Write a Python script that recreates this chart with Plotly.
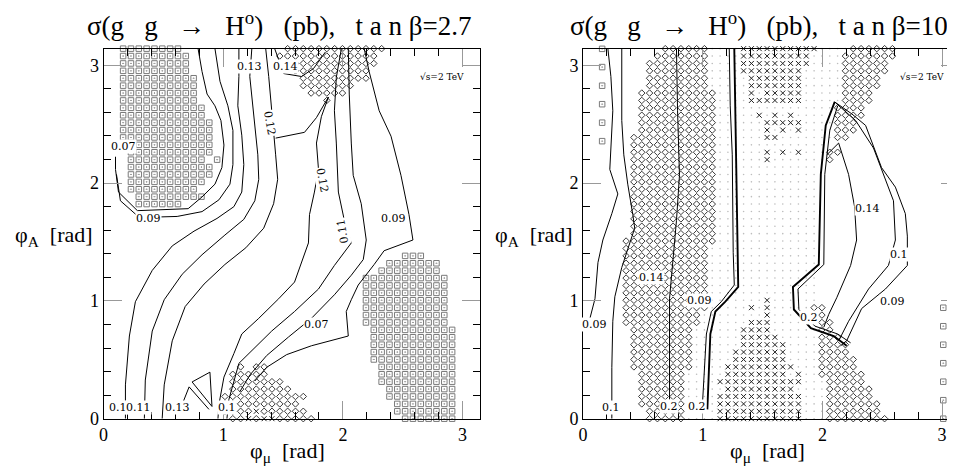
import numpy as np
import plotly.graph_objects as go

PI = np.pi
DX = PI / 48   # scan grid step in phi_mu
DY = PI / 50   # scan grid step in phi_A

def gx(i):
    return (i + 0.5) * DX

def gy(j):
    return min(j * DY, PI)

# ---------------- scan-point regions (row index j, column spec) ----------------
# left panel (tan beta = 2.7)
L_SQUARES = [
    (50, "2-9"), (49, "2-10"), (48, "2-10"), (47, "2-10"), (46, "2-11"), (45, "2-11"),
    (44, "2-11"), (43, "2-11"), (42, "2-12"), (41, "2-12"), (40, "2-13"), (39, "2-13"),
    (38, "2-13"), (37, "2-13"), (36, "3-13"), (35, "3-12,14"), (34, "3-13"), (33, "3-13"),
    (32, "3-12"), (31, "3-11"), (30, "4-12"), (29, "4-9"),
    (22, "38-40"), (21, "36-42"), (20, "35-42"), (19, "33-43"), (18, "33-43"), (17, "33-43"),
    (16, "33-43"), (15, "33-43"), (14, "33-43"), (13, "33-43"), (12, "34-44"), (11, "34-44"),
    (10, "34-44"), (9, "34-44"), (8, "34-44"), (7, "35-44"), (6, "35-44"), (5, "35-44"),
    (4, "36-44"), (3, "36-44"), (2, "37-44"), (1, "37-44"), (0, "38-44"),
]
L_DIAMONDS = [
    (50, "23-35"), (49, "22-34"), (48, "23-34"), (47, "24-33"), (46, "25-33"), (45, "25-31"),
    (44, "26-30"), (43, "28"),
    (7, "17,19,20"), (6, "16-20"), (5, "16-22"), (4, "16-23"), (3, "15-25"), (2, "15-24"),
    (1, "15-18,20-25"), (0, "16-17,19,22-26"),
]
L_CROSSES = [(1, "19"), (0, "18,20,21")]

# right panel (tan beta = 10)
R_DIAMONDS = [
    (50, "10-15"), (49, "9-15"), (48, "8-15"), (47, "8-15"), (46, "8-15"), (45, "8-15"),
    (44, "7-16"), (43, "7-16"), (42, "7-16"), (41, "7-16"), (40, "7-16"), (39, "7-16"),
    (38, "6-16"), (37, "6-16"), (36, "6-16"), (35, "6-16"), (34, "6-16"), (33, "6-16"),
    (32, "6-16"), (31, "6-16"), (30, "6-16"), (29, "6-16"), (28, "6-16"), (27, "6-16"),
    (26, "6-16"), (25, "6-16"), (24, "5-16"), (23, "5-15"), (22, "5-15"), (21, "5-15"),
    (20, "5-15"), (19, "5-15"), (18, "5-15"), (17, "5-15"), (16, "5-15"), (15, "5-15"),
    (14, "5-14"), (13, "5-14"), (12, "6-13"), (11, "6-13"), (10, "6-13"), (9, "6-13"),
    (8, "6-13"), (7, "6-13"), (6, "7-12"), (5, "7-12"), (4, "7-12"), (3, "7-12"),
    (2, "7-12"), (1, "8-12"), (0, "8-12"),
    (50, "34-39"), (49, "33-39"), (48, "33-38"), (47, "33-38"), (46, "33-37"), (45, "33-37"),
    (44, "33-36"), (43, "33-36"), (42, "32-35"), (41, "32-35"), (40, "32-34"), (39, "32-34"),
    (38, "32-33"), (36, "31-32"), (35, "31"),
    (15, "29-30"), (14, "30"), (13, "30-31"), (12, "30-31"), (11, "30-32"), (10, "30-33"),
    (9, "30-33"), (8, "30-34"), (7, "30-34"), (6, "30-35"), (5, "31-35"), (4, "31-36"),
    (3, "31-36"), (2, "31-37"), (1, "31-37"), (0, "31-38"),
]
R_CROSSES = [
    (50, "20-29"), (49, "20-28"), (48, "20-28"), (47, "20-27"), (46, "21-27"), (45, "21-27"),
    (44, "21,23-27"), (43, "21-27"), (41, "22,24,26"), (40, "23-27"), (39, "23,25,27"),
    (38, "23-24"), (36, "23,25,27"), (35, "23"),
    (16, "23"), (15, "21,23"), (14, "23"), (13, "21-23"), (12, "20-23"), (11, "20-24"),
    (10, "20-25"), (9, "19-25"), (8, "19-25"), (7, "18-26"), (6, "18-25,27"), (5, "17-27"),
    (4, "18-26"), (3, "17-27"), (2, "17-27"), (1, "17-27"), (0, "17-27"),
]
R_DOT_ROWS = [
    (50, "16-33"), (49, "16-32"), (48, "16-32"), (47, "16-32"), (46, "16-32"), (45, "16-32"),
    (44, "17-32"), (43, "17-32"), (42, "17-31"), (41, "17-31"), (40, "17-31"), (39, "17-31"),
    (38, "17-31"), (37, "17-30"), (36, "17-30"), (35, "17-30"), (34, "17-29"), (33, "17-29"),
    (32, "17-29"), (31, "17-29"), (30, "17-29"), (29, "17-29"), (28, "17-29"), (27, "17-29"),
    (26, "17-29"), (25, "17-29"), (24, "17-29"), (23, "16-29"), (22, "16-29"), (21, "16-29"),
    (20, "16-29"), (19, "16-29"), (18, "16-29"), (17, "16-29"), (16, "16-29"), (15, "16-28"),
    (14, "15-29"), (13, "15-29"), (12, "14-29"), (11, "14-29"), (10, "14-29"), (9, "14-29"),
    (8, "14-29"), (7, "14-29"), (6, "13-29"), (5, "13-30"), (4, "13-30"), (3, "13-30"),
    (2, "13-30"), (1, "13-30"), (0, "13-30"),
]
R_SQUARES_X = [0.16, 0.16, 0.16, 0.16, 0.16, 0.16, 3.01, 3.01, 3.01, 3.01, 3.01, 3.01, 3.01]
R_SQUARES_Y = [3.14, 2.985, 2.827, 2.67, 2.513, 2.356, 0.942, 0.785, 0.628, 0.471, 0.314, 0.157, 0.0]

# ---------------- contour lines (phi_mu, phi_A) ----------------
L_LINES = {
    "c007": ([0.10, 0.10, 0.125, 0.283, 0.707, 0.823, 0.931, 0.989, 1.006, 0.981, 0.931, 0.865, 0.823, 0.790],
             [2.224, 2.116, 1.924, 1.766, 1.783, 1.883, 1.991, 2.132, 2.323, 2.531, 2.656, 2.756, 2.947, 3.1416]),
    "c009": ([0.108, 0.141, 0.299, 0.615, 0.823, 0.964, 1.056, 1.081, 1.081, 1.039, 0.973, 0.931],
             [2.074, 1.850, 1.708, 1.717, 1.758, 1.858, 1.991, 2.157, 2.448, 2.656, 2.864, 3.1416]),
    "c010": ([0.183, 0.183, 0.216, 0.266, 0.407, 0.574, 0.756, 0.948, 1.089, 1.155, 1.172, 1.155, 1.122, 1.131, 1.131],
             [0.0, 0.287, 0.702, 0.993, 1.259, 1.467, 1.592, 1.700, 1.800, 1.924, 2.157, 2.407, 2.656, 2.905, 3.1416]),
    "c011": ([0.341, 0.349, 0.407, 0.507, 0.657, 0.823, 1.014, 1.172, 1.264, 1.297, 1.289, 1.264, 1.239, 1.222, 1.239],
             [0.0, 0.328, 0.744, 1.010, 1.226, 1.392, 1.559, 1.692, 1.850, 2.032, 2.240, 2.490, 2.697, 2.905, 3.1416]),
    "c013": ([0.490, 0.507, 0.574, 0.682, 0.840, 1.014, 1.189, 1.338, 1.421, 1.455, 1.438, 1.421, 1.405, 1.380, 1.355],
             [0.0, 0.287, 0.661, 0.952, 1.143, 1.309, 1.451, 1.617, 1.825, 2.032, 2.240, 2.448, 2.656, 2.905, 3.1416]),
    "c013b": ([1.430, 1.505, 1.654, 1.754, 1.854],
              [3.1416, 2.930, 2.905, 2.972, 3.113]),
    "c012": ([1.438, 1.679, 1.779, 1.879, 1.820, 1.779, 1.796, 1.762, 1.721, 1.712, 1.596, 1.463, 1.297, 1.155, 1.089, 1.006, 0.964, 0.956],
             [2.382, 2.431, 2.556, 2.731, 2.564, 2.340, 2.116, 1.924, 1.733, 1.492, 1.160, 1.018, 0.852, 0.719, 0.553, 0.353, 0.121, 0.0]),
    "c011b": ([1.987, 1.945, 1.929, 1.945, 1.962, 2.012, 2.070, 1.929, 1.796, 1.596, 1.405, 1.264, 1.131, 1.047, 1.031],
              [3.1416, 2.897, 2.614, 2.340, 1.924, 1.683, 1.492, 1.301, 1.101, 0.910, 0.744, 0.603, 0.470, 0.162, 0.0]),
    "c010b": ([2.045, 2.053, 2.070, 2.086, 2.153, 2.195, 2.170, 2.070, 1.929, 1.737, 1.546, 1.363, 1.222, 1.139],
              [3.1416, 2.756, 2.340, 2.066, 1.825, 1.517, 1.351, 1.218, 1.052, 0.852, 0.694, 0.536, 0.370, 0.229]),
    "c009b": ([2.178, 2.219, 2.303, 2.402, 2.485, 2.552, 2.585, 2.344, 2.261, 2.128, 2.070, 2.028, 2.045, 1.737, 1.530, 1.363, 1.264],
              [3.1416, 2.947, 2.614, 2.398, 2.066, 1.733, 1.517, 1.426, 1.309, 1.135, 1.010, 0.910, 0.702, 0.619, 0.544, 0.436, 0.320]),
    "tri": ([0.740, 0.889, 0.906, 0.740], [0.312, 0.395, 0.104, 0.312]),
    "tri2": ([0.657, 0.715, 0.881], [0.121, 0.270, 0.079]),
}
R_LINES = {
    "c009": ([0.208, 0.233, 0.249, 0.224, 0.291, 0.241, 0.166, 0.125, 0.100, 0.058, 0.0],
             [3.1416, 2.905, 2.614, 2.116, 1.908, 1.741, 1.517, 1.326, 1.018, 0.852, 0.786]),
    "c010": ([0.324, 0.324, 0.324, 0.341, 0.374, 0.416, 0.432, 0.391, 0.324, 0.266, 0.249, 0.241, 0.241],
             [3.1416, 2.822, 2.531, 2.240, 1.991, 1.733, 1.617, 1.492, 1.284, 1.035, 0.827, 0.436, 0.0]),
    "c02a": ([0.781, 0.790, 0.806, 0.781, 0.723, 0.723, 0.723],
             [3.1416, 2.614, 2.066, 1.683, 1.018, 0.495, 0.162]),
    "c02b": ([1.222, 1.230, 1.247, 1.255, 1.264, 1.155, 1.072, 1.031, 0.998],
             [3.1416, 2.656, 2.240, 1.409, 1.135, 0.993, 0.910, 0.719, 0.121]),
    "c02c": ([1.264, 1.272, 1.280, 1.288, 1.297, 1.189, 1.106, 1.064, 1.039],
             [3.1416, 2.656, 2.240, 1.409, 1.118, 0.993, 0.910, 0.719, 0.079]),
    "loop02a": ([2.103, 2.028, 1.987, 1.970, 1.754, 1.762, 1.904, 2.095, 2.203],
                [2.689, 2.490, 2.074, 1.309, 1.118, 0.927, 0.769, 0.702, 0.619]),
    "loop02b": ([2.128, 2.062, 2.020, 2.012, 1.796, 1.804, 1.937, 2.128, 2.236],
                [2.656, 2.448, 2.074, 1.309, 1.101, 0.927, 0.786, 0.719, 0.644]),
    "loop014": ([2.037, 2.136, 2.219, 2.269, 2.286, 2.236, 2.120, 2.053, 2.012],
                [2.240, 2.340, 2.074, 1.800, 1.517, 1.301, 1.027, 0.885, 0.777]),
    "loop010": ([2.103, 2.278, 2.427, 2.510, 2.594, 2.610, 2.552, 2.386, 2.219, 2.136],
                [2.689, 2.531, 2.298, 2.074, 1.850, 1.517, 1.301, 1.101, 0.827, 0.661]),
    "loop009": ([2.103, 2.244, 2.361, 2.494, 2.610, 2.693, 2.710, 2.710, 2.527, 2.328, 2.203, 2.153],
                [2.689, 2.589, 2.490, 2.132, 1.966, 1.741, 1.550, 1.301, 1.101, 0.935, 0.661, 0.619]),
}
THICK = {"c02c", "loop02a"}

# contour labels: (text, phi_mu, phi_A, angle)
L_LABELS = [
    ("0.07", 0.166, 2.307, 0), ("0.09", 0.374, 1.700, 0), ("0.1", 0.120, 0.096, 0),
    ("0.11", 0.290, 0.096, 0), ("0.13", 0.615, 0.096, 0), ("0.1", 1.031, 0.096, 0),
    ("0.12", 1.388, 2.506, 80), ("0.12", 1.829, 2.024, 80), ("0.11", 1.995, 1.592, -100),
    ("0.09", 2.419, 1.700, 0), ("0.07", 1.779, 0.802, 0), ("0.13", 1.222, 2.988, 0),
    ("0.14", 1.521, 2.988, 0),
]
R_LABELS = [
    ("0.09", 0.100, 0.802, 0), ("0.1", 0.233, 0.096, 0), ("0.14", 0.574, 1.201, 0),
    ("0.09", 0.973, 1.002, 0), ("0.2", 0.715, 0.104, 0), ("0.2", 0.956, 0.104, 0),
    ("0.2", 1.887, 0.860, 0), ("0.14", 2.377, 1.783, 0), ("0.1", 2.643, 1.392, 0),
    ("0.09", 2.585, 0.993, 0),
]
TITLES = ["σ(g   g   →   H<sup>o</sup>)   (pb),   t a n β=2.7",
          "σ(g   g   →   H<sup>o</sup>)   (pb),   t a n β=10"]
ENERGY = "√s=2 TeV"
X_TICKS = [0, 1, 2, 3]


def parse(spec):
    out = []
    for part in spec.split(","):
        if "-" in part:
            a, b = part.split("-")
            out.extend(range(int(a), int(b) + 1))
        else:
            out.append(int(part))
    return out


def expand(rows):
    cells = []
    for j, spec in rows:
        for i in parse(spec):
            cells.append((i, j))
    return cells


def xy(cells):
    return [gx(i) for i, j in cells], [gy(j) for i, j in cells]


SERIF = "Liberation Serif"
LABEL_FONT = "DejaVu Serif"
fig = go.Figure()

def add_points(cells, ax, symbol, size, color, lw=1):
    x, y = xy(cells)
    fig.add_trace(go.Scatter(x=x, y=y, mode="markers", xaxis=ax[0], yaxis=ax[1],
                             marker=dict(symbol=symbol, size=size, color=color,
                                         line=dict(width=lw, color=color)),
                             cliponaxis=False, showlegend=False, hoverinfo="skip"))

LAX = ("x", "y")
RAX = ("x2", "y2")

# left panel points
add_points(expand(L_SQUARES), LAX, "square-open-dot", 5.5, "#7a7a7a")
add_points(expand(L_DIAMONDS), LAX, "diamond-open", 5, "#3a3a3a")
add_points(expand(L_CROSSES), LAX, "x-thin-open", 5, "#222222")

# right panel points
rd = expand(R_DIAMONDS)
rc = expand(R_CROSSES)
occupied = set(rd) | set(rc)
dots = [c for c in expand(R_DOT_ROWS) if c not in occupied]
add_points(dots, RAX, "circle", 1.6, "#bdbdbd", 0)
add_points(rd, RAX, "diamond-open", 5, "#3a3a3a")
add_points(rc, RAX, "x-thin-open", 5, "#222222")
fig.add_trace(go.Scatter(x=R_SQUARES_X, y=R_SQUARES_Y, mode="markers", xaxis="x2", yaxis="y2",
                         marker=dict(symbol="square-open-dot", size=5.5, color="#7a7a7a",
                                     line=dict(width=1, color="#7a7a7a")),
                         cliponaxis=False, showlegend=False, hoverinfo="skip"))

# contour lines
for name, (x, y) in L_LINES.items():
    fig.add_trace(go.Scatter(x=x, y=y, mode="lines", xaxis="x", yaxis="y",
                             line=dict(color="black", width=1), showlegend=False, hoverinfo="skip"))
for name, (x, y) in R_LINES.items():
    fig.add_trace(go.Scatter(x=x, y=y, mode="lines", xaxis="x2", yaxis="y2",
                             line=dict(color="black", width=1.9 if name in THICK else 1),
                             showlegend=False, hoverinfo="skip"))

ann = []
for labels, xr, yr in [(L_LABELS, "x", "y"), (R_LABELS, "x2", "y2")]:
    for t, x, y, a in labels:
        ann.append(dict(text=t, x=x, y=y, xref=xr, yref=yr, showarrow=False,
                        textangle=a,
                        font=dict(family=LABEL_FONT, size=11, color="black"),
                        bgcolor="white", borderpad=0))
for xr, yr in [("x", "y"), ("x2", "y2")]:
    ann.append(dict(text=ENERGY, x=2.83, y=2.905, xref=xr, yref=yr, showarrow=False,
                    font=dict(family=LABEL_FONT, size=9, color="black")))

DOM_L = [0.0953, 0.4911]
DOM_R = [0.6, 0.9958]
DOM_Y = [0.1168, 0.9126]

for k, dom in enumerate([DOM_L, DOM_R]):
    cx = (dom[0] + dom[1]) / 2
    ann.append(dict(text=TITLES[k], x=cx - 0.013, y=0.965, xref="paper", yref="paper",
                    showarrow=False, xanchor="center", yanchor="middle",
                    font=dict(family=SERIF, size=27, color="black")))
    ann.append(dict(text="φ<sub>μ</sub>  [rad]", x=cx - 0.004, y=0.045, xref="paper", yref="paper",
                    showarrow=False, xanchor="center", yanchor="middle",
                    font=dict(family=SERIF, size=22, color="black")))
    ann.append(dict(text="φ<sub>A</sub>  [rad]", x=dom[0] - 0.052, y=0.51, xref="paper", yref="paper",
                    showarrow=False, xanchor="center", yanchor="middle",
                    font=dict(family=SERIF, size=22, color="black")))

def axis(dom, anchor):
    return dict(domain=dom, anchor=anchor, range=[0, PI], tickvals=X_TICKS,
                ticktext=[str(v) for v in X_TICKS],
                ticks="inside", ticklen=18, tickcolor="#999999", tickwidth=1,
                minor=dict(dtick=0.2, tick0=0, ticks="inside", ticklen=7, tickcolor="black"),
                showline=True, linecolor="black", linewidth=1, mirror="allticks",
                showgrid=False, zeroline=False,
                tickfont=dict(family=SERIF, size=18, color="black"))

fig.update_layout(
    width=955, height=475, autosize=False,
    margin=dict(l=0, r=0, t=0, b=0),
    paper_bgcolor="white", plot_bgcolor="white",
    xaxis=axis(DOM_L, "y"), yaxis=axis(DOM_Y, "x"),
    xaxis2=axis(DOM_R, "y2"), yaxis2=axis(DOM_Y, "x2"),
    annotations=ann,
)

fig.write_html("out.html")
